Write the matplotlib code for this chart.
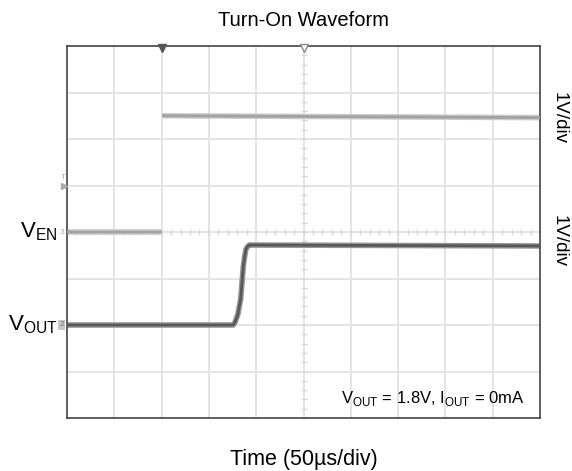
import numpy as np
import matplotlib.pyplot as plt

plt.rcParams['font.family'] = ['Liberation Sans', 'DejaVu Sans']

# time in us (50 us/div, 10 div); the fast EN edge is not drawn by the scope
ven_t = [0, 100, np.nan, 100.5, 500]
ven_v = [0.0, 0.0, np.nan, 2.50, 2.46]   # V, 1V/div, ground at div 4

vout_t = [0, 175.8, 177.6, 180.5, 183.6, 185.0, 186.4, 188.0, 189.2, 191.0, 192.7, 500]
vout_v = [0.0, 0.0, 0.06, 0.22, 0.56, 0.92, 1.27, 1.50, 1.63, 1.69, 1.72, 1.70]

ven_gnd = 4.0
vout_gnd = 2.0

fig = plt.figure(figsize=(5.72, 4.71), dpi=100)
ax = fig.add_axes([67/572, 53/471, 473/572, 372/471])
ax.set_xlim(0, 500)
ax.set_ylim(0, 8)

# scope grid
for gx in np.arange(50, 500, 50):
    ax.axvline(gx, color='#e4e4e4', lw=1.4, zorder=0)
for gy in np.arange(1, 8):
    ax.axhline(gy, color='#e4e4e4', lw=1.4, zorder=0)
# minor ticks on the centre lines
mx = np.arange(0, 500, 10)
ax.plot(mx, np.full_like(mx, 4.0, dtype=float), ls='none', marker='|', ms=4,
        color='#d8d8d8', mew=1, zorder=0)
my = np.arange(0, 8, 0.2)
ax.plot(np.full_like(my, 250.0), my, ls='none', marker='_', ms=4,
        color='#d8d8d8', mew=1, zorder=0)

# traces (fuzzy look with a wider pale line underneath)
ven_y = np.array(ven_v) + ven_gnd
vout_y = np.array(vout_v) + vout_gnd
ax.plot(ven_t, ven_y, color='#cacaca', lw=4, solid_capstyle='butt', zorder=2)
ax.plot(ven_t, ven_y, color='#a2a2a2', lw=2, solid_capstyle='butt', zorder=3)
ax.plot(vout_t, vout_y, color='#959595', lw=4, solid_capstyle='butt', zorder=2)
ax.plot(vout_t, vout_y, color='#585858', lw=2, solid_capstyle='butt', zorder=3)

for s in ax.spines.values():
    s.set_color('#444444')
    s.set_linewidth(1.2)
ax.set_xticks([])
ax.set_yticks([])

# trigger markers
ax.plot([100], [7.95], marker='v', ms=6, color='#555555', clip_on=False, zorder=5)
ax.plot([250], [7.95], marker='v', ms=6, mfc='white', mec='#888888', clip_on=False, zorder=5)
ax.plot([-3], [5], marker='>', ms=4, color='#aaaaaa', clip_on=False, zorder=5)
ax.text(-4, 5.1, 'T', fontsize=6, color='#aaaaaa', ha='center', va='bottom')

# channel ground markers
ax.text(-3, ven_gnd, '3', fontsize=6, color='#aaaaaa', ha='right', va='center')
ax.text(-3, vout_gnd, '2', fontsize=6, color='#777777', ha='right', va='center',
        bbox=dict(boxstyle='square,pad=0.15', fc='#c8c8c8', ec='none'))

# labels
ax.text(-10, ven_gnd, r'V$_{\mathregular{EN}}$', fontsize=16, ha='right', va='center')
ax.text(-10, vout_gnd, r'V$_{\mathregular{OUT}}$', fontsize=16, ha='right', va='center')
ax.text(1.04, 0.806, '1V/div', transform=ax.transAxes, fontsize=13.5, rotation=-90,
        ha='center', va='center')
ax.text(1.04, 0.476, '1V/div', transform=ax.transAxes, fontsize=13.5, rotation=-90,
        ha='center', va='center')
ax.text(0.968, 0.028, r'V$_{\mathregular{OUT}}$ = 1.8V, I$_{\mathregular{OUT}}$ = 0mA',
        transform=ax.transAxes, fontsize=12, ha='right', va='bottom')

fig.text(304/572, 1 - 20/471, 'Turn-On Waveform', fontsize=14.5, ha='center', va='center')
fig.text(304/572, 1 - 459/471, 'Time (50µs/div)', fontsize=15.5, ha='center', va='center')

plt.savefig('out.png', dpi=100)
